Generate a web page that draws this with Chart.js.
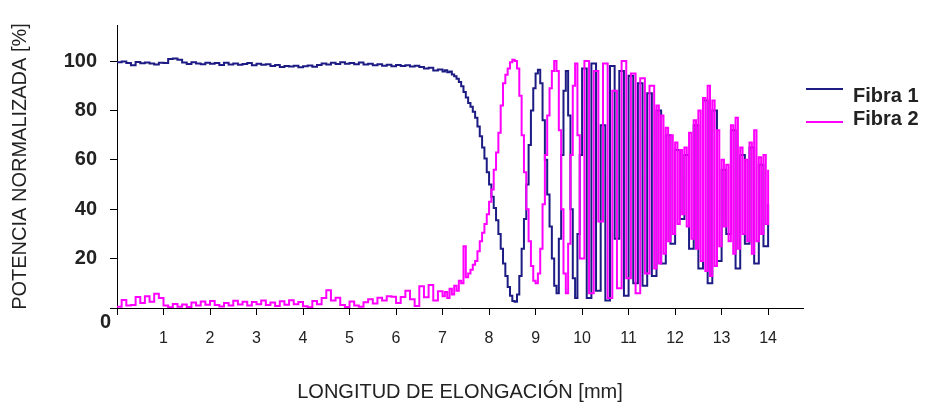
<!DOCTYPE html>
<html>
<head>
<meta charset="utf-8">
<script src="https://cdn.jsdelivr.net/npm/chart.js@4.4.0/dist/chart.umd.min.js"></script>
<style>
  html, body { margin: 0; padding: 0; background: #fff; }
  #wrap { position: relative; width: 930px; height: 406px; }
  .leg-line { position: absolute; left: 806px; width: 37px; height: 0; border-top: 2px solid; }
  .leg-text { position: absolute; left: 853px; font: bold 20px "Liberation Sans", Arial, sans-serif; color: #222; line-height: 22px; }
</style>
</head>
<body>
<div id="wrap">
  <canvas id="fibrasChart"></canvas>
  <div class="leg-line" style="top: 88px; border-color: #1c1c84;"></div>
  <div class="leg-text" style="top: 84px;">Fibra 1</div>
  <div class="leg-line" style="top: 121px; border-color: #ff00ff;"></div>
  <div class="leg-text" style="top: 107px;">Fibra 2</div>
</div>
<script>
// longitud de elongacion [mm]
const longitud = [
  0, 0.1, 0.2, 0.3, 0.4, 0.5, 0.6, 0.7, 0.8, 0.9,
  1, 1.1, 1.2, 1.3, 1.4, 1.5, 1.6, 1.7, 1.8, 1.9,
  2, 2.1, 2.2, 2.3, 2.4, 2.5, 2.6, 2.7, 2.8, 2.9,
  3, 3.1, 3.2, 3.3, 3.4, 3.5, 3.6, 3.7, 3.8, 3.9,
  4, 4.1, 4.2, 4.3, 4.4, 4.5, 4.6, 4.7, 4.8, 4.9,
  5, 5.1, 5.2, 5.3, 5.4, 5.5, 5.6, 5.7, 5.8, 5.9,
  6, 6.1, 6.2, 6.3, 6.4, 6.5, 6.6, 6.7, 6.8, 6.9,
  7,
  7.05, 7.1, 7.15, 7.2, 7.25, 7.3, 7.35, 7.4, 7.45, 7.5,
  7.55, 7.6, 7.65, 7.7, 7.75, 7.8, 7.85, 7.9, 7.95, 8,
  8.05, 8.1, 8.15, 8.2, 8.25, 8.3, 8.35, 8.4, 8.45, 8.5,
  8.55, 8.6, 8.65, 8.7, 8.75, 8.8, 8.85, 8.9, 8.95, 9,
  9.05, 9.1, 9.15, 9.2, 9.25, 9.3, 9.35, 9.4, 9.45, 9.5,
  9.55, 9.6, 9.65, 9.7, 9.75, 9.8, 9.85, 9.9,
  9.95, 10, 10.05, 10.1, 10.15, 10.2, 10.25, 10.3, 10.35, 10.4,
  10.45, 10.5, 10.55, 10.6, 10.65, 10.7, 10.75, 10.8, 10.85, 10.9,
  10.95, 11, 11.05, 11.1, 11.15, 11.2, 11.25, 11.3, 11.35, 11.4,
  11.45, 11.5,
  11.55, 11.6, 11.65, 11.7, 11.75, 11.8, 11.85, 11.9, 11.95, 12,
  12.05, 12.1, 12.15, 12.2, 12.25, 12.3, 12.35, 12.4, 12.45, 12.5,
  12.55, 12.6, 12.65, 12.7, 12.75, 12.8, 12.85, 12.9, 12.95, 13,
  13.05, 13.1, 13.15, 13.2, 13.25, 13.3, 13.35, 13.4, 13.45, 13.5,
  13.55, 13.6, 13.65, 13.7, 13.75, 13.8, 13.85, 13.9, 13.95, 14
];

// potencia normalizada [%]
const fibra1 = [
  99.5, 99.8, 99.2, 98.3, 99.6, 99.1, 99.4, 99.0, 98.6, 99.3,
  99.2, 100.8, 101.0, 100.5, 99.4, 98.8, 99.5, 99.0, 98.7, 99.3,
  98.9, 99.2, 98.4, 99.3, 98.6, 99.0, 98.5, 98.8, 99.2, 98.3,
  98.9, 98.5, 98.7, 98.0, 98.4, 97.6, 98.0, 97.8, 98.1, 97.5,
  97.9, 98.2, 97.7, 98.4, 99.0, 98.6, 99.3, 98.8, 99.5, 98.9,
  99.2, 98.7, 99.4, 98.6, 98.9, 98.3, 98.7, 98.1, 98.5, 97.9,
  98.4, 98.0, 98.3, 97.8, 98.1, 97.6, 97.0, 97.3, 96.2, 96.6,
  95.8,
  96.3, 95.5, 95.8, 94.6, 93.8, 92.8, 91.5, 89.8, 87.5, 85.2,
  83.0, 81.5, 79.5, 77.0, 73.5, 69.5, 65.0, 60.5, 55.0, 50.0,
  45.0, 40.5, 35.5, 30.0, 24.0, 18.0, 13.0, 8.5, 5.0, 2.8,
  2.5, 5.5, 13.0, 24.0, 36.0, 50.0, 66.0, 80.0, 89.0, 95.0,
  96.5, 91.0, 76.0, 60.0, 46.0, 33.0, 20.0, 9.0, 6.0, 28.0,
  62.0, 88.0, 96.0, 78.0, 40.0, 12.0, 4.0, 30.0,
  62, 97, 97, 4, 4, 99, 99, 7, 7, 74,
  74, 3, 3, 98, 98, 28, 28, 96, 96, 5,
  5, 94, 94, 10, 10, 91, 91, 9, 9, 87,
  87, 13,
  13, 80, 80, 18, 18, 70, 70, 26, 26, 64,
  64, 36, 36, 62, 62, 24, 24, 74, 74, 16,
  16, 84, 84, 10, 10, 80, 80, 19, 19, 56,
  56, 30, 30, 72, 72, 16, 16, 62, 62, 26,
  26, 65, 65, 18, 18, 58, 58, 25, 25, 42
];

const fibra2 = [
  0.5, 3.2, 1.0, 1.2, 4.5, 2.0, 4.8, 2.5, 5.8, 4.0,
  1.0, 0.3, 1.6, 0.5, 1.4, 0.4, 2.2, 1.0, 2.6, 1.3,
  2.8, 1.2, 0.6, 2.0, 1.0, 2.9, 1.4, 2.5, 1.0, 2.4,
  1.5, 3.0, 1.2, 2.2, 0.8, 2.7, 1.3, 3.1, 1.5, 2.4,
  0.7, 0.3, 2.8, 1.5, 4.0, 7.2, 3.0, 4.2, 1.2, 0.4,
  2.6, 1.0, 0.5, 2.3, 3.5, 1.8, 4.2, 3.0, 4.8, 4.6,
  2.0, 4.5, 7.0, 3.5, 0.8, 8.8, 4.4, 9.3, 3.0, 6.8,
  4.8,
  6.5, 4.0, 7.8, 5.5, 9.0, 7.0, 11.0, 10.0, 25.0, 12.5,
  14.0, 15.5, 17.5, 19.0, 23.0, 27.0, 30.5, 34.0, 38.0, 43.0,
  48.0, 56.0, 63.0, 71.0, 82.0, 91.0, 94.5, 97.0, 99.5, 100.5,
  100.0, 97.0, 86.0, 70.0, 55.0, 40.0, 27.0, 17.0, 11.0, 10.0,
  14.0, 24.0, 42.0, 62.0, 78.0, 89.0, 96.0, 100.0, 96.0, 72.0,
  40.0, 14.0, 6.0, 26.0, 62.0, 90.0, 99.0, 70.0,
  20, 20, 100, 100, 6, 6, 96, 96, 35, 35,
  99, 99, 4, 4, 88, 88, 8, 8, 100, 100,
  12, 12, 95, 95, 6, 6, 93, 93, 14, 14,
  90, 90,
  16, 82, 18, 78, 22, 73, 27, 70, 30, 67,
  34, 64, 38, 65, 33, 71, 28, 76, 24, 80,
  19, 85, 15, 90, 13, 84, 17, 72, 25, 60,
  33, 58, 27, 74, 22, 77, 24, 65, 30, 60,
  27, 67, 22, 72, 27, 61, 30, 62, 34, 56
];

const FONT = '"Liberation Sans", Arial, sans-serif';
Chart.defaults.font.family = FONT;

// the "0" sits below-left of the origin in the original
const origenPlugin = {
  id: 'origen',
  afterDraw(chart) {
    const { ctx, scales: { x, y } } = chart;
    ctx.save();
    ctx.font = 'bold 20px ' + FONT;
    ctx.fillStyle = '#222';
    ctx.textAlign = 'right';
    ctx.textBaseline = 'middle';
    ctx.fillText('0', x.getPixelForValue(0) - 6, y.getPixelForValue(0) + 14);
    ctx.restore();
  }
};

function puntos(serie) {
  return serie.map((v, i) => ({ x: longitud[i], y: v }));
}

new Chart(document.getElementById('fibrasChart'), {
  type: 'line',
  data: {
    datasets: [
      {
        label: 'Fibra 1',
        data: puntos(fibra1),
        borderColor: '#1c1c84',
        borderWidth: 2,
        pointRadius: 0,
        stepped: true,
        order: 2
      },
      {
        label: 'Fibra 2',
        data: puntos(fibra2),
        borderColor: '#ff00ff',
        borderWidth: 2,
        pointRadius: 0,
        stepped: true,
        order: 1
      }
    ]
  },
  options: {
    responsive: true,
    maintainAspectRatio: false,
    animation: false,
    layout: { padding: { top: 25, right: 127, left: 0, bottom: 0 } },
    plugins: {
      legend: { display: false },
      tooltip: { enabled: false }
    },
    scales: {
      x: {
        type: 'linear',
        min: 0,
        max: 14.75,
        afterFit: (s) => { s.height = 98; },
        ticks: {
          stepSize: 1,
          includeBounds: false,
          autoSkip: false,
          maxRotation: 0,
          padding: 14,
          color: '#222',
          font: { size: 16 },
          callback: (v) => (v === 0 ? '' : v)
        },
        grid: { drawOnChartArea: false, tickLength: 7, color: '#000' },
        border: { color: '#000', width: 1 },
        title: {
          display: true,
          text: 'LONGITUD DE ELONGACIÓN [mm]',
          color: '#222',
          font: { size: 20 },
          padding: { top: 0, bottom: 2 }
        }
      },
      y: {
        min: 0,
        max: 114.6,
        afterFit: (s) => { s.width = 117; },
        ticks: {
          stepSize: 20,
          includeBounds: false,
          padding: 13,
          color: '#222',
          font: { size: 20, weight: 'bold' },
          callback: (v) => (v === 0 ? '' : v)
        },
        grid: { drawOnChartArea: false, tickLength: 7, color: '#000' },
        border: { color: '#000', width: 1 },
        title: {
          display: true,
          text: 'POTENCIA NORMALIZADA [%]',
          color: '#222',
          font: { size: 20 },
          padding: { top: 8, bottom: 0 }
        }
      }
    }
  },
  plugins: [origenPlugin]
});
</script>
</body>
</html>
